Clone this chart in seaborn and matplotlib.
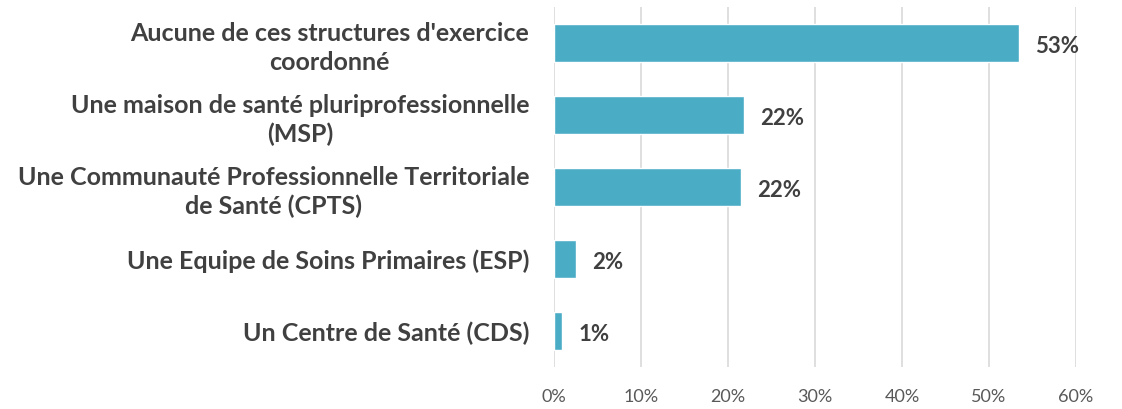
import matplotlib
matplotlib.use("Agg")
import matplotlib.pyplot as plt
import seaborn as sns
import pandas as pd
from matplotlib.ticker import FuncFormatter

categories = [
    "Aucune de ces structures d'exercice\ncoordonné",
    "Une maison de santé pluriprofessionnelle\n(MSP)",
    "Une Communauté Professionnelle Territoriale\nde Santé (CPTS)",
    "Une Equipe de Soins Primaires (ESP)",
    "Un Centre de Santé (CDS)",
]
values = [53.4, 21.8, 21.5, 2.5, 0.9]
tick_values = [0, 10, 20, 30, 40, 50, 60]

sns.set_theme(style="white")
plt.rcParams["font.family"] = ["Lato", "DejaVu Sans"]

df = pd.DataFrame({"structure": categories, "pct": values})

fig = plt.figure(figsize=(11.22, 4.09), dpi=100)
ax = fig.add_axes([0.4938, 0.1027, 0.4652, 0.8803])

sns.barplot(data=df, x="pct", y="structure", color="#4BACC6",
            width=0.52, ax=ax, saturation=1, zorder=3)

ax.set_xlim(0, 60)
ax.set_xticks(tick_values)
ax.xaxis.set_major_formatter(FuncFormatter(lambda v, _: f"{v:.0f}%"))
ax.grid(axis="x", color="#D9D9D9", linewidth=1.2, zorder=0)
ax.set_axisbelow(True)
for s in ax.spines.values():
    s.set_visible(False)
ax.tick_params(axis="both", length=0)
ax.tick_params(axis="x", labelsize=13, labelcolor="#595959", pad=16)
ax.tick_params(axis="y", labelsize=18, labelcolor="#404040", pad=18)
for lbl in ax.get_yticklabels():
    lbl.set_fontweight("bold")
    lbl.set_horizontalalignment("right")
    lbl.set_multialignment("center")
    lbl.set_linespacing(1.3)
ax.set_xlabel("")
ax.set_ylabel("")

for i, v in enumerate(values):
    ax.text(v + 1.9, i + 0.05, f"{round(v)}%", va="center", ha="left",
            fontsize=16, fontweight="bold", color="#404040")

fig.savefig("out.png", dpi=100)
